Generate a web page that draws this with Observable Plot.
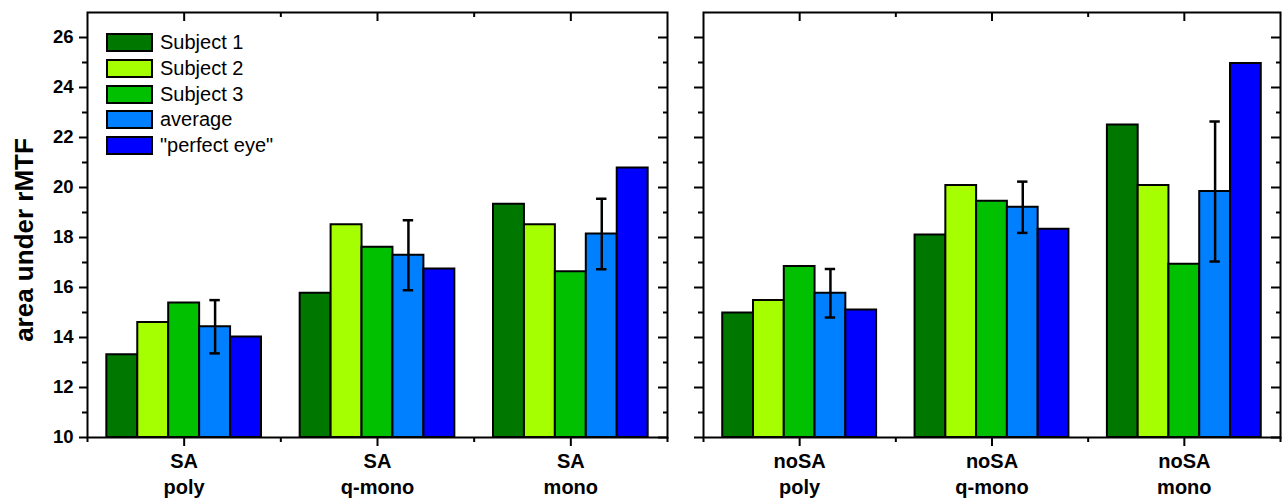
<!DOCTYPE html>
<html>
<head>
<meta charset="utf-8">
<script src="https://cdn.jsdelivr.net/npm/d3@7"></script>
<script src="https://cdn.jsdelivr.net/npm/@observablehq/plot@0.6"></script>
<style>
  html, body { margin: 0; padding: 0; background: #fff; }
  #wrap { position: relative; width: 1282px; height: 499px; overflow: hidden; font-family: "Liberation Sans", Arial, sans-serif; }
  #left { position: absolute; left: 0; top: 0; }
  #right { position: absolute; left: 680px; top: 0; }
  #ytitle { position: absolute; left: 24px; top: 240px; transform: translate(-50%, -50%) rotate(-90deg);
            font-size: 26px; font-weight: bold; white-space: nowrap; line-height: 1; color: #000; }
  #legend { position: absolute; left: 106px; top: 33px; }
  .lrow { position: absolute; left: 0; height: 19px; white-space: nowrap; }
  .sw { position: absolute; left: 0; top: 0; width: 47px; height: 19px; box-sizing: border-box; border: 2px solid #000; }
  .lt { position: absolute; left: 54px; top: -2px; font-size: 20px; line-height: 22px; color: #000; }
</style>
</head>
<body>
<div id="wrap">
  <div id="left"></div>
  <div id="right"></div>
  <div id="ytitle">area under rMTF</div>
  <div id="legend"></div>
</div>
<script>
// ---- data ----
const groups = ["poly", "q-mono", "mono"];
const panels = ["SA", "noSA"];
const seriesNames = ["Subject 1", "Subject 2", "Subject 3", "average", "\"perfect eye\""];
const seriesColors = ["#007800", "#a6ff00", "#00c000", "#0080ff", "#0000ff"];
const yDomain = [10, 27];
const yMajorTicks = [10, 12, 14, 16, 18, 20, 22, 24, 26];
const yMinorTicks = [11, 13, 15, 17, 19, 21, 23, 25];

const SA_subject1 = [13.31, 15.77, 19.33];
const SA_subject2 = [14.6, 18.51, 18.51];
const SA_subject3 = [15.38, 17.61, 16.63];
const SA_average = [14.43, 17.29, 18.14];
const SA_averageErr = [1.065, 1.4, 1.41];
const SA_perfect = [14.02, 16.74, 20.78];

const noSA_subject1 = [14.98, 18.1, 22.5];
const noSA_subject2 = [15.48, 20.08, 20.08];
const noSA_subject3 = [16.84, 19.45, 16.93];
const noSA_average = [15.77, 19.21, 19.84];
const noSA_averageErr = [0.97, 1.025, 2.8];
const noSA_perfect = [15.1, 18.33, 24.96];

// ---- build tables ----
function rowsFor(seriesArrays) {
  const rows = [];
  seriesArrays.forEach((arr, s) => arr.forEach((v, g) => rows.push({g, s, value: v, series: seriesNames[s]})));
  return rows;
}
function errFor(avg, err) {
  return avg.map((v, g) => ({g, value: v, err: err[g]}));
}

const barFrac = 0.8 / seriesNames.length; // bar width in group units
const bx1 = d => d.g - 0.4 + d.s * barFrac;
const bx2 = d => d.g - 0.4 + (d.s + 1) * barFrac;
const avgIndex = 3;
const ec = d => d.g - 0.4 + (avgIndex + 0.5) * barFrac;
const capHalf = 0.027;

function panelPlot({panel, rows, errs, width, marginLeft, marginRight, labels}) {
  const font = {fontFamily: "Liberation Sans, Arial, sans-serif", fontWeight: "bold"};
  const marks = [
    Plot.rectY(rows, {
      x1: bx1, x2: bx2, y1: () => yDomain[0], y2: "value",
      fill: d => seriesColors[d.s], stroke: "#000", strokeWidth: 2
    }),
    Plot.ruleX(errs, {x: ec, y1: d => d.value - d.err, y2: d => d.value + d.err, stroke: "#000", strokeWidth: 2.5}),
    Plot.ruleY(errs, {y: d => d.value + d.err, x1: d => ec(d) - capHalf, x2: d => ec(d) + capHalf, stroke: "#000", strokeWidth: 2.5}),
    Plot.ruleY(errs, {y: d => d.value - d.err, x1: d => ec(d) - capHalf, x2: d => ec(d) + capHalf, stroke: "#000", strokeWidth: 2.5}),
    // left y axis
    labels
      ? Plot.axisY({anchor: "left", ticks: yMajorTicks, tickSize: 8, tickPadding: 6, strokeWidth: 2, fontSize: 18.5, label: null, ...font})
      : Plot.axisY({anchor: "left", ticks: yMajorTicks, tickSize: 9, strokeWidth: 2, fill: "none", label: null}),
    Plot.axisY({anchor: "left", ticks: yMinorTicks, tickSize: 5, strokeWidth: 2, fill: "none", label: null}),
    // right y axis (inward ticks)
    Plot.axisY({anchor: "right", ticks: yMajorTicks, tickSize: 10, dx: -10, strokeWidth: 2, fill: "none", label: null}),
    Plot.axisY({anchor: "right", ticks: yMinorTicks, tickSize: 5, dx: -5, strokeWidth: 2, fill: "none", label: null}),
    // bottom x axis
    Plot.axisX({anchor: "bottom", ticks: [0, 1, 2], tickSize: 9, tickPadding: 3, strokeWidth: 2,
      tickFormat: i => panel + "\n" + groups[i], fontSize: 20, lineHeight: 1.3, label: null, ...font}),
    Plot.axisX({anchor: "bottom", ticks: [-0.5, 0.5, 1.5, 2.5], tickSize: 5, strokeWidth: 2, fill: "none", label: null}),
    // top x axis (inward ticks)
    Plot.axisX({anchor: "top", ticks: [0, 1, 2], tickSize: 8, dy: 8, strokeWidth: 2, fill: "none", label: null}),
    Plot.axisX({anchor: "top", ticks: [0.5, 1.5], tickSize: 4, dy: 4, strokeWidth: 2, fill: "none", label: null}),
    Plot.frame({stroke: "#000", strokeWidth: 2})
  ];
  return Plot.plot({
    width, height: 499,
    marginLeft, marginRight, marginTop: 12, marginBottom: 62,
    style: {background: "transparent", color: "#000", overflow: "visible"},
    x: {type: "linear", domain: [-0.5, 2.5], label: null},
    y: {domain: yDomain, label: null},
    marks
  });
}

const leftRows = rowsFor([SA_subject1, SA_subject2, SA_subject3, SA_average, SA_perfect]);
const rightRows = rowsFor([noSA_subject1, noSA_subject2, noSA_subject3, noSA_average, noSA_perfect]);

document.getElementById("left").appendChild(panelPlot({
  panel: panels[0], rows: leftRows, errs: errFor(SA_average, SA_averageErr),
  width: 680, marginLeft: 87, marginRight: 13, labels: true
}));
document.getElementById("right").appendChild(panelPlot({
  panel: panels[1], rows: rightRows, errs: errFor(noSA_average, noSA_averageErr),
  width: 602, marginLeft: 23, marginRight: 2, labels: false
}));

// legend
const legend = document.getElementById("legend");
seriesNames.forEach((name, i) => {
  const row = document.createElement("div");
  row.className = "lrow";
  row.style.top = (i * 25.8) + "px";
  const sw = document.createElement("div");
  sw.className = "sw";
  sw.style.background = seriesColors[i];
  const t = document.createElement("div");
  t.className = "lt";
  t.textContent = name;
  row.appendChild(sw); row.appendChild(t);
  legend.appendChild(row);
});
</script>
</body>
</html>
